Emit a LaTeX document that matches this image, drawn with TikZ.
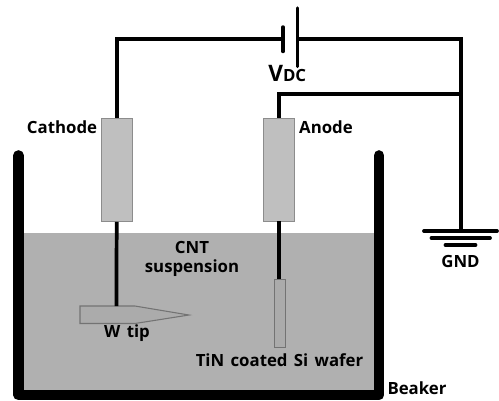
\documentclass[tikz,border=0pt]{standalone}
\usepackage{fontspec}
\setmainfont[WordSpace=1.45]{Open Sans}
\tikzset{
  px/.style={x=0.75pt,y=-0.75pt},
  wire/.style={draw=black,line width=2.8pt,line join=miter},
  thin wire/.style={draw=black,line width=2.6pt,line cap=round},
  beaker/.style={draw=black,line width=8pt,line cap=round,line join=round},
  holder/.style={rectangle,draw=gray!90,fill=black!25,line width=1pt,inner sep=0pt,anchor=north west,minimum width=23.25pt,minimum height=77.25pt},
  probe/.style={draw=gray!90!black,fill=black!33,line width=0.8pt},
  wafershape/.style={rectangle,probe,inner sep=0pt,anchor=north west,minimum width=8.6pt,minimum height=51pt},
  lab/.style={font=\fontsize{12.6pt}{14pt}\selectfont\bfseries,text=black,inner sep=0pt,anchor=center},
}
\begin{document}
\begin{tikzpicture}[px]
\useasboundingbox (0,0) rectangle (499,400);
% liquid
\fill[black!31] (24,233) rectangle (374,391);
\draw[beaker] (18.5,155.5) -- (18.5,395) -- (379,395) -- (379,155.5);
% circuit coordinates
\coordinate (plateL) at (283,39);
\coordinate (plateR) at (297.5,39);
\coordinate (corner) at (461,39);
\coordinate (join) at (461,94);
\coordinate (gndtop) at (461,231);
\coordinate (anodetop) at (279,117.5);
\coordinate (anodeturn) at (279,94);
\coordinate (anodebot) at (279,221);
\coordinate (wafertop) at (279,279);
\coordinate (tiptop) at (116.5,306);
% holders
\node[holder] (cathode) at (100.5,117.5) {};
\node[holder] (anode) at (263,117.5) {};
\node[wafershape] (wafer) at (273.5,279) {};
% tip
\path[probe] (80,306) -- (135,306) -- (189,315) -- (135,323.5) -- (80,323.5) -- cycle;
% wires
\draw[wire] (cathode.north) |- (plateL);
\draw[wire] (plateR) -- (corner) -- (gndtop);
\draw[wire] (anodetop) -- (anodeturn) -- (join);
\draw[wire] (cathode.south) -- (tiptop);
\draw[wire] (anodebot) -- (wafertop);
% battery
\draw[thin wire] (283,27) -- (283,51.5);
\draw[thin wire] (297.5,8) -- (297.5,66.5);
% ground
\draw[wire,line cap=round] (424,231) -- (497,231);
\draw[wire,line cap=round] (431.5,238) -- (490,238);
\draw[wire,line cap=round] (445.5,245) -- (475.5,245);
% labels
\node[lab] (lc) at (62,127) {Cathode};
\node[lab] (la) at (326,127) {Anode};
\node[lab,anchor=base west] (lv) at (268,81) {{\fontsize{17pt}{18pt}\selectfont V}{\fontsize{12.6pt}{14pt}\selectfont DC}};
\node[lab] (lcnt) at (192,247) {CNT};
\node[lab] (lsus) at (192,268) {suspension};
\node[lab] (lw) at (127,333) {W tip};
\node[lab] (lt) at (279.5,360) {TiN coated Si wafer};
\node[lab] (lb) at (417,388) {Beaker};
\node[lab] (lg) at (460.5,261) {GND};
\end{tikzpicture}
\end{document}
